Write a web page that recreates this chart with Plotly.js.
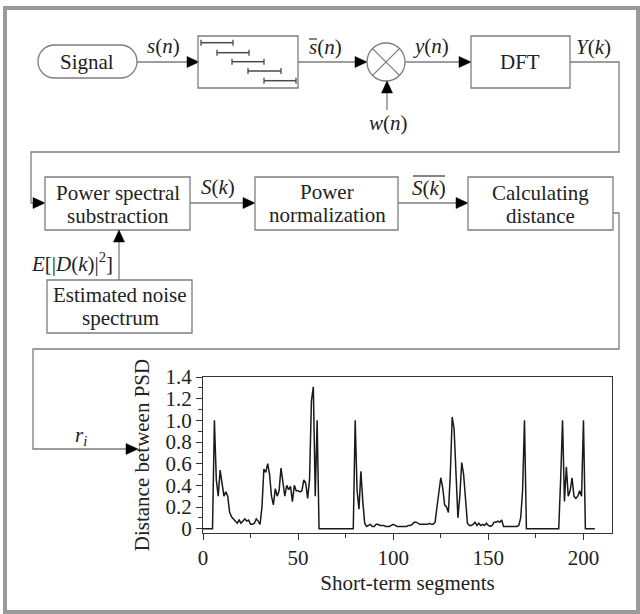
<!DOCTYPE html>
<html>
<head>
<meta charset="utf-8">
<script src="https://cdn.plot.ly/plotly-3.0.1.min.js"></script>
<style>html,body{margin:0;padding:0;background:#fff;}#chart{width:640px;height:614px;}</style>
</head>
<body>
<div id="chart"></div>
<script>
// ---- Data: distance between PSD for each short-term segment ----
const segments = [
  0,1,2,3,4,5,6,7,8,9,
  10,11,12,13,14,15,16,17,18,19,
  20,21,22,23,24,25,26,27,28,29,
  30,31,32,33,34,35,36,37,38,39,
  40,41,42,43,44,45,46,47,48,49,
  50,51,52,53,54,55,56,57,58,59,
  60,61,62,63,64,65,66,67,68,69,
  70,71,72,73,74,75,76,77,78,79,
  80,81,82,83,84,85,86,87,88,89,
  90,91,92,93,94,95,96,97,98,99,
  100,101,102,103,104,105,106,107,108,109,
  110,111,112,113,114,115,116,117,118,119,
  120,121,122,123,124,125,126,127,128,129,
  130,131,132,133,134,135,136,137,138,139,
  140,141,142,143,144,145,146,147,148,149,
  150,151,152,153,154,155,156,157,158,159,
  160,161,162,163,164,165,166,167,168,169,
  170,171,172,173,174,175,176,177,178,179,
  180,181,182,183,184,185,186,187,188,189,
  190,191,192,193,194,195,196,197,198,199,
  200,201,202,203,204,205,206
];
const distance = [
  0,0,0,0,0,0,1.0,0.45,0.3,0.54,
  0.42,0.3,0.34,0.3,0.15,0.11,0.09,0.07,0.05,0.08,
  0.05,0.07,0.09,0.07,0.08,0.04,0.04,0.05,0.09,0.07,
  0.04,0.2,0.55,0.52,0.6,0.5,0.3,0.22,0.37,0.3,
  0.35,0.56,0.45,0.3,0.4,0.36,0.39,0.25,0.4,0.35,
  0.35,0.34,0.35,0.45,0.42,0.28,0.45,1.18,1.31,0.3,
  1.0,0,0,0,0,0,0,0,0,0,
  0,0,0,0,0,0,0,0,0,0,
  1.0,0.35,0.18,0.53,0.25,0.05,0.02,0.03,0.04,0.02,
  0.02,0.04,0.04,0.03,0.03,0.03,0.02,0.02,0.02,0.03,
  0.04,0.03,0.02,0.02,0.02,0.02,0.02,0.02,0.03,0.03,
  0.04,0.06,0.06,0.05,0.04,0.04,0.04,0.04,0.04,0.05,
  0.04,0.04,0.06,0.2,0.35,0.47,0.38,0.22,0.2,0.15,
  0.5,1.03,0.92,0.55,0.1,0.3,0.61,0.5,0.25,0.05,
  0.03,0.03,0.04,0.06,0.03,0.05,0.03,0.04,0.03,0.05,
  0.03,0.02,0.03,0.06,0.06,0.07,0.06,0.08,0.02,0.02,
  0.02,0.02,0.02,0.02,0.02,0.02,0.03,0.1,0.35,1.0,
  0,0,0,0,0,0,0,0,0,0,
  0,0,0,0,0,0,0,0,0.45,1.0,
  0.25,0.57,0.3,0.35,0.47,0.3,0.28,0.3,0.35,0.3,
  1.0,0,0,0,0,0,0
];
const xTickVals = [0, 50, 100, 150, 200];
const xTickText = ["0", "50", "100", "150", "200"];
const yTickVals = [0, 0.2, 0.4, 0.6, 0.8, 1.0, 1.2, 1.4];
const yTickText = ["0", "0.2", "0.4", "0.6", "0.8", "1.0", "1.2", "1.4"];

// ---- Diagram helpers (pixel -> paper) ----
const W = 640, H = 614;
const X = x => x / W;
const Y = y => 1 - y / H;
const pt = (x, y) => X(x) + ',' + Y(y);
const LINE = '#7d7d7d';
const FONT = 'Tinos, Liberation Serif, DejaVu Serif, Noto Serif, Times, serif';
const TXT = '#222';
const shapes = [];
const annotations = [];

function seg(x0, y0, x1, y1, color, width) {
  shapes.push({type: 'line', xref: 'paper', yref: 'paper', x0: X(x0), y0: Y(y0), x1: X(x1), y1: Y(y1),
    line: {color: color || LINE, width: width || 1.3}});
}
function poly(points, color, width) {
  shapes.push({type: 'path', xref: 'paper', yref: 'paper',
    path: 'M' + points.map(p => pt(p[0], p[1])).join(' L'),
    line: {color: color || LINE, width: width || 1.3}});
}
function box(x0, y0, x1, y1) {
  shapes.push({type: 'rect', xref: 'paper', yref: 'paper', x0: X(x0), y0: Y(y1), x1: X(x1), y1: Y(y0),
    line: {color: LINE, width: 1.3}, fillcolor: 'rgba(0,0,0,0)'});
}
function arrowR(tx, ty) {
  shapes.push({type: 'path', xref: 'paper', yref: 'paper',
    path: 'M' + pt(tx, ty) + ' L' + pt(tx - 12, ty - 5.5) + ' L' + pt(tx - 12, ty + 5.5) + ' Z',
    fillcolor: '#000', line: {color: '#000', width: 0.5}});
}
function arrowU(tx, ty) {
  shapes.push({type: 'path', xref: 'paper', yref: 'paper',
    path: 'M' + pt(tx, ty) + ' L' + pt(tx - 5.5, ty + 12) + ' L' + pt(tx + 5.5, ty + 12) + ' Z',
    fillcolor: '#000', line: {color: '#000', width: 0.5}});
}
function txt(x, y, text, size) {
  annotations.push({xref: 'paper', yref: 'paper', x: X(x), y: Y(y), text: text, showarrow: false,
    xanchor: 'center', yanchor: 'middle', font: {family: FONT, size: size || 21, color: TXT}});
}

// Outer frame
shapes.push({type: 'rect', xref: 'paper', yref: 'paper', x0: X(5), y0: Y(612), x1: X(638), y1: Y(8),
  line: {color: '#9a9a9a', width: 4}, fillcolor: 'rgba(0,0,0,0)'});

// Signal pill
(function () {
  const x0 = 38, x1 = 137, y0 = 45, y1 = 78, r = 16.5, cy = 61.5, k = 0.5523 * r;
  const a = x0 + r, b = x1 - r;
  const p = 'M' + pt(a, y0) + ' L' + pt(b, y0) +
    ' C' + pt(b + k, y0) + ' ' + pt(x1, cy - k) + ' ' + pt(x1, cy) +
    ' C' + pt(x1, cy + k) + ' ' + pt(b + k, y1) + ' ' + pt(b, y1) +
    ' L' + pt(a, y1) +
    ' C' + pt(a - k, y1) + ' ' + pt(x0, cy + k) + ' ' + pt(x0, cy) +
    ' C' + pt(x0, cy - k) + ' ' + pt(a - k, y0) + ' ' + pt(a, y0) + ' Z';
  shapes.push({type: 'path', xref: 'paper', yref: 'paper', path: p, line: {color: LINE, width: 1.3}});
})();
txt(87, 62, 'Signal');

// Signal -> window
seg(137, 62, 188, 62); arrowR(199, 62);
txt(163, 46, '<i>s</i>(<i>n</i>)');

// Window box with overlapping frames
box(198, 36, 298, 88);
const frames = [[201, 233, 42.7], [217, 249, 52.7], [232, 264, 61.7], [248, 281, 71], [264, 296, 80.7]];
frames.forEach(f => {
  seg(f[0], f[2], f[1], f[2], '#4a4a4a', 1.5);
  seg(f[0], f[2] - 3, f[0], f[2] + 3, '#4a4a4a', 1.3);
  seg(f[1], f[2] - 3, f[1], f[2] + 3, '#4a4a4a', 1.3);
});

// window -> multiplier
seg(298, 62, 356, 62); arrowR(367, 62);
txt(325, 47, '<i>s</i>(<i>n</i>)');
seg(309, 39, 317, 39, '#222', 1.1);

// Multiplier circle
shapes.push({type: 'circle', xref: 'paper', yref: 'paper', x0: X(367), x1: X(405), y0: Y(81), y1: Y(43),
  line: {color: LINE, width: 1.3}});
seg(372.6, 48.6, 399.4, 75.4); seg(372.6, 75.4, 399.4, 48.6);
seg(387, 110, 387, 93); arrowU(387, 81);
txt(388, 123, '<i>w</i>(<i>n</i>)');

// multiplier -> DFT
seg(405, 62, 460, 62); arrowR(471, 62);
txt(431, 46, '<i>y</i>(<i>n</i>)');
box(471, 36, 570, 88);
txt(520, 62, 'DFT');
txt(593, 47, '<i>Y</i>(<i>k</i>)');

// DFT -> Power spectral subtraction
poly([[570, 62], [619, 62], [619, 152], [31, 152], [31, 203], [34, 203]]);
arrowR(45, 203);

box(45, 177, 190, 230);
txt(118, 193, 'Power spectral');
txt(118, 216, 'substraction');

seg(190, 203, 244, 203); arrowR(255, 203);
txt(218, 187, '<i>S</i>(<i>k</i>)');

box(255, 177, 398, 230);
txt(327, 192, 'Power');
txt(327, 215, 'normalization');

seg(398, 203, 457, 203); arrowR(468, 203);
txt(429, 188, '<i>S</i>(<i>k</i>)');
seg(413, 176, 445, 176, '#222', 1.1);

box(468, 177, 613, 230);
txt(540, 193, 'Calculating');
txt(540, 216, 'distance');

// Noise estimate
box(47, 280, 192, 333);
txt(120, 295, 'Estimated noise');
txt(120, 318, 'spectrum');
seg(119, 280, 119, 242); arrowU(119, 230);
txt(72, 262, '<i>E</i>[|<i>D</i>(<i>k</i>)|<sup>2</sup>]');

// Calculating distance -> plot
poly([[613, 213], [619, 213], [619, 349], [33, 349], [33, 449], [127, 449]]);
arrowR(138, 449);
txt(81, 436, '<i>r</i><sub><i>i</i></sub>');

// ---- Chart ----
const trace = {
  type: 'scatter', mode: 'lines', x: segments, y: distance,
  line: {color: '#1a1a1a', width: 1.5}, hoverinfo: 'skip'
};

const axisCommon = {
  showgrid: false, zeroline: false, showline: true, mirror: true,
  linecolor: '#333', linewidth: 1, ticks: 'outside', tickcolor: '#333', ticklen: 6, tickwidth: 1,
  tickfont: {family: FONT, size: 21, color: TXT}
};

const layout = {
  width: 640, height: 614,
  margin: {l: 0, r: 0, t: 0, b: 0},
  paper_bgcolor: '#fff', plot_bgcolor: '#fff',
  showlegend: false,
  font: {family: FONT, size: 21, color: TXT},
  xaxis: Object.assign({}, axisCommon, {
    domain: [X(203), X(612)], range: [0, 215],
    tickmode: 'array', tickvals: xTickVals, ticktext: xTickText,
    minor: {tickmode: 'linear', tick0: 0, dtick: 25, ticks: 'outside', ticklen: 4, tickcolor: '#333'},
    title: {text: 'Short-term segments', font: {family: FONT, size: 21, color: TXT}, standoff: 6}
  }),
  yaxis: Object.assign({}, axisCommon, {
    domain: [Y(533), Y(377)], range: [-0.04, 1.4],
    tickmode: 'array', tickvals: yTickVals, ticktext: yTickText,
    minor: {tickmode: 'linear', tick0: 0, dtick: 0.1, ticks: 'outside', ticklen: 4, tickcolor: '#333'},
    title: {text: 'Distance between PSD', font: {family: FONT, size: 21, color: TXT}, standoff: 10}
  }),
  shapes: shapes,
  annotations: annotations
};

Plotly.newPlot('chart', [trace], layout, {displayModeBar: false, staticPlot: true});
</script>
</body>
</html>
